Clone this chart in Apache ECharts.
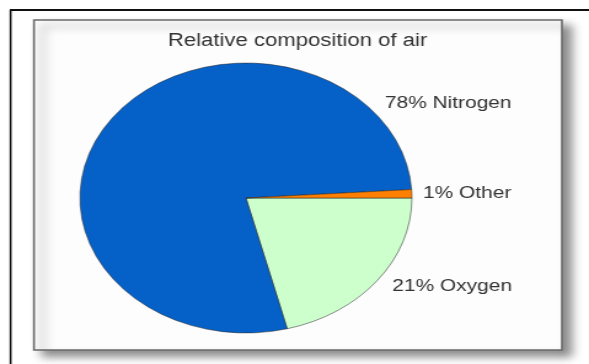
<!DOCTYPE html>
<html>
<head>
<meta charset="utf-8">
<script src="https://cdn.jsdelivr.net/npm/echarts@6/dist/echarts.min.js"></script>
<style>
  html, body { margin: 0; padding: 0; background: #ffffff; overflow: hidden; }
  #wrap { width: 589px; height: 364px; overflow: hidden; position: relative; }
  #chart { width: 479px; height: 364px; transform: scaleX(1.2296); transform-origin: 0 0; position: absolute; left: 0; top: 0; }
</style>
</head>
<body>
<div id="wrap"><div id="chart"></div></div>
<script>
// Data
const chartTitle = 'Relative composition of air';
const categories = ['Oxygen', 'Nitrogen', 'Other'];
const values = [21, 78, 1];
const colors = ['#CCFFCC', '#0561C8', '#FF8000'];
// label anchor points (unscaled px) for each category's text
const labelAnchors = [[319, 286], [313, 103], [344, 193]];

const chart = echarts.init(document.getElementById('chart'), null, { renderer: 'canvas' });
const font = '"Liberation Sans", Arial, sans-serif';

const labelTexts = categories.map((c, i) => ({
  type: 'text',
  x: labelAnchors[i][0],
  y: labelAnchors[i][1],
  z: 20,
  style: {
    text: values[i] + '% ' + c,
    fontSize: 17,
    fontFamily: font,
    fill: '#333333',
    textAlign: 'left', align: 'left',
    textVerticalAlign: 'middle', verticalAlign: 'middle'
  }
}));

chart.setOption({
  animation: false,
  backgroundColor: '#ffffff',
  graphic: [
    // outer frame
    { type: 'line', z: 0, shape: { x1: 8, y1: 10, x2: 479, y2: 10 }, style: { stroke: '#111', lineWidth: 2 } },
    { type: 'line', z: 0, shape: { x1: 8.6, y1: 10, x2: 8.6, y2: 364 }, style: { stroke: '#111', lineWidth: 1.6 } },
    // inner panel with shadow
    { type: 'rect', z: 0, shape: { x: 27.6, y: 20, width: 429.4, height: 330 },
      style: { fill: '#fdfdfd', stroke: '#6a6a6a', lineWidth: 1.6,
               shadowColor: 'rgba(0,0,0,0.45)', shadowBlur: 8, shadowOffsetX: 7, shadowOffsetY: 6 } },
    { type: 'text', x: 242, y: 41, z: 20,
      style: { text: chartTitle, fontSize: 18, fontFamily: font, fill: '#333333',
               textAlign: 'center', align: 'center', textVerticalAlign: 'middle', verticalAlign: 'middle' } }
  ].concat(labelTexts),
  series: [{
    type: 'pie',
    z: 5,
    center: [200, 198],
    radius: [0, 135],
    startAngle: 0,
    clockwise: true,
    label: { show: false },
    labelLine: { show: false },
    emphasis: { disabled: true },
    itemStyle: { borderColor: 'rgba(40,40,40,0.75)', borderWidth: 0.7 },
    data: categories.map((c, i) => ({ name: c, value: values[i], itemStyle: { color: colors[i] } }))
  }]
});
</script>
</body>
</html>
